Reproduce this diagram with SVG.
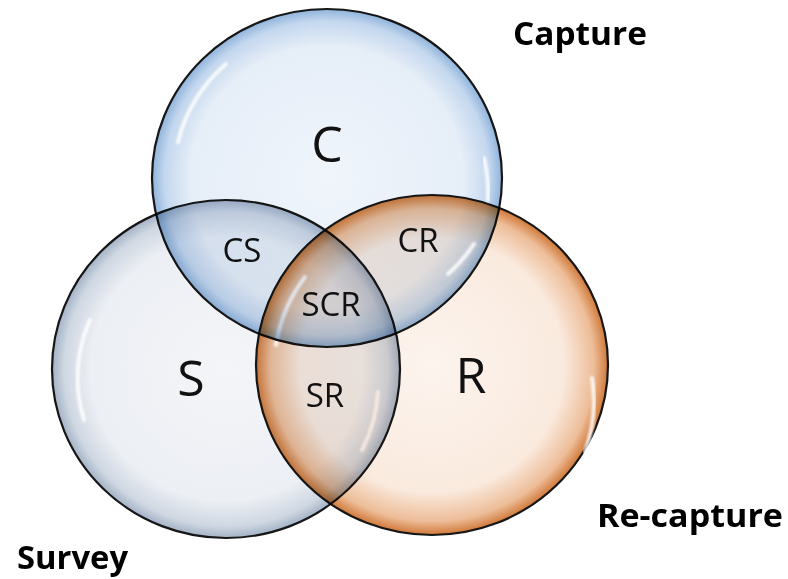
<svg xmlns="http://www.w3.org/2000/svg" width="788" height="579" viewBox="0 0 788 579">
<style>
.ring{stroke:#161616;stroke-width:2.2;mix-blend-mode:multiply}
.hl{fill:none;stroke:#ffffff;stroke-width:4;stroke-linecap:round;opacity:0.85;filter:url(#blur)}
.big{font-family:"Open Sans","Noto Sans","Liberation Sans",sans-serif;font-size:50px;fill:#111;text-anchor:middle}
.mid{font-family:"Open Sans","Noto Sans","Liberation Sans",sans-serif;font-size:33px;fill:#111;text-anchor:middle}
.title{font-family:"Open Sans","Noto Sans","Liberation Sans",sans-serif;font-size:32px;font-weight:bold;fill:#000}
</style>
<defs>
<radialGradient id="gC" cx="0.5" cy="0.5" r="0.5">
<stop offset="0" stop-color="#f0f5fb"/>
<stop offset="0.78" stop-color="#e6eef8"/>
<stop offset="0.93" stop-color="#c3d7ee"/>
<stop offset="1" stop-color="#8fb3db"/>
</radialGradient>
<radialGradient id="gS" cx="0.5" cy="0.5" r="0.5">
<stop offset="0" stop-color="#f4f5f8"/>
<stop offset="0.78" stop-color="#eceff4"/>
<stop offset="0.93" stop-color="#cfd7e2"/>
<stop offset="1" stop-color="#a3b2c6"/>
</radialGradient>
<radialGradient id="gR" cx="0.5" cy="0.5" r="0.5">
<stop offset="0" stop-color="#fcf4ee"/>
<stop offset="0.75" stop-color="#faeade"/>
<stop offset="0.92" stop-color="#edbd98"/>
<stop offset="1" stop-color="#d07838"/>
</radialGradient>
<filter id="blur" x="-20%" y="-20%" width="140%" height="140%"><feGaussianBlur stdDeviation="1.3"/></filter>
</defs>
<rect width="788" height="579" fill="#ffffff"/>
<g id="node-S">
<ellipse class="ring" cx="226" cy="369" rx="174" ry="169" fill="url(#gS)"/>
<path class="hl" d="M84,420 A150,145 0 0 1 90,320"/>
<path class="hl" d="M378,392 A152,147 0 0 1 362,450"/>
<text class="big" x="191" y="396">S</text>
<text class="title" x="17" y="569" textLength="111" lengthAdjust="spacingAndGlyphs">Survey</text>
</g>
<g id="node-R">
<ellipse class="ring" cx="432" cy="365" rx="176" ry="170" fill="url(#gR)"/>
<path class="hl" d="M592,378 A158,153 0 0 1 585,452"/>
<path class="hl" d="M276,345 A158,153 0 0 1 305,277"/>
<text class="big" x="471" y="393">R</text>
<text class="title" x="597" y="527" textLength="186" lengthAdjust="spacingAndGlyphs">Re-capture</text>
</g>
<g id="node-C">
<ellipse class="ring" cx="327" cy="178" rx="175" ry="169" fill="url(#gC)"/>
<path class="hl" d="M178,142 A157,152 0 0 1 226,64"/>
<path class="hl" d="M484,158 A157,152 0 0 1 488,200"/>
<path class="hl" d="M474,244 A157,152 0 0 1 448,274"/>
<text class="big" x="327" y="162">C</text>
<text class="title" x="513" y="45" textLength="134" lengthAdjust="spacingAndGlyphs">Capture</text>
</g>
<g id="connectors"></g>
<g id="overlap-labels">
<text class="mid" x="242" y="262">CS</text>
<text class="mid" x="418" y="252">CR</text>
<text class="mid" x="331" y="316">SCR</text>
<text class="mid" x="325" y="407">SR</text>
</g>
</svg>
